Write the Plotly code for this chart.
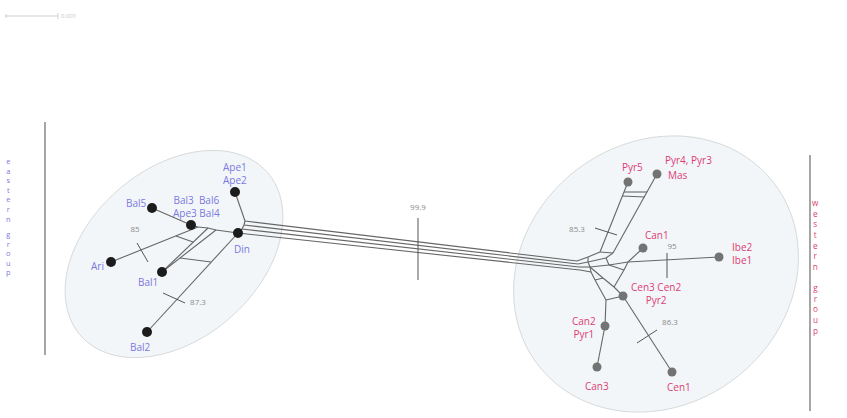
import numpy as np
import plotly.graph_objects as go

# ---------------- data ----------------
# network points (layout units); taxa first, then split junctions
point_names = ["Ape", "Bal5", "Bal3", "Din", "Ari", "Bal1", "Bal2",
               "Pyr5", "Pyr4", "Can1", "Ibe", "Cen3", "Can2", "Can3", "Cen1",
               "LA", "LB", "LC", "R1a", "R1b", "R2a", "R2b",
               "BL1", "BL2", "BL3", "BR1", "BR2", "BR3", "BR4",
               "Ha", "Hb", "Hc", "Hd", "U1", "U2", "He", "Hf", "Hg", "Hh",
               "D1", "D2", "D3", "D4", "P5r", "P4r", "P5s", "P4s"]
point_x = [235, 152, 191, 238, 111, 162, 147,
           628, 657, 643, 719, 623, 605, 597, 672,
           198, 208, 216, 176, 193, 180, 211,
           245, 244, 242, 577, 578, 579, 580,
           588, 588, 590, 591, 600, 613, 606, 609, 628, 624,
           603, 614, 595, 606, 624, 647, 622, 645]
point_y = [192, 208, 225, 233, 262, 272, 332,
           182, 174, 248, 257, 296, 326, 367, 372,
           227, 228, 230, 236, 242, 258, 262,
           221, 225, 229, 261, 264, 267, 270,
           257, 262, 267, 272, 252, 253, 258, 265, 262, 270,
           278, 287, 280, 300, 192, 192, 196, 197]

edges = [("Ape", "BL1"), ("BL1", "BL2"), ("BL2", "BL3"), ("BL3", "Din"),
         ("Bal5", "Bal3"), ("Bal3", "LA"), ("LA", "LB"), ("LB", "LC"), ("LC", "Din"),
         ("Ari", "LA"), ("Bal1", "LB"), ("Bal1", "LC"), ("R1a", "R1b"), ("R2a", "R2b"),
         ("Bal2", "Din"),
         ("BL1", "BR1"), ("BL2", "BR2"), ("BL3", "BR3"), ("Din", "BR4"),
         ("BR1", "Ha"), ("BR2", "Hb"), ("BR3", "Hc"), ("BR4", "Hd"),
         ("Ha", "Hb"), ("Hb", "Hc"), ("Hc", "Hd"), ("Ha", "U1"), ("Hb", "He"),
         ("He", "U2"), ("U1", "U2"), ("He", "Hf"), ("Hc", "Hf"), ("Hf", "Hg"),
         ("Hg", "Ibe"), ("Hg", "Can1"), ("Hf", "Hh"), ("Hh", "Hg"), ("Hh", "D2"),
         ("Hd", "D3"), ("Hc", "D1"), ("D3", "D1"), ("D1", "D2"), ("D2", "Cen3"),
         ("D3", "D4"), ("D4", "Can2"), ("D4", "Cen3"), ("Can2", "Can3"), ("Cen3", "Cen1"),
         ("U1", "Pyr5"), ("U2", "Pyr4"), ("P5r", "P4r"), ("P5s", "P4s")]

eastern_taxa = ["Ape", "Bal5", "Bal3", "Din", "Ari", "Bal1", "Bal2"]
western_taxa = ["Pyr5", "Pyr4", "Can1", "Ibe", "Cen3", "Can2", "Can3", "Cen1"]

# taxon labels: (node, text, dx, dy)
eastern_labels = [("Ape", "Ape1<br>Ape2", 0, -19), ("Bal5", "Bal5", -16, -5),
                  ("Bal3", "Bal3  Bal6<br>Ape3 Bal4", 5, -19), ("Din", "Din", 4, 16),
                  ("Ari", "Ari", -14, 4), ("Bal1", "Bal1", -14, 10), ("Bal2", "Bal2", -7, 15)]
western_labels = [("Pyr5", "Pyr5", 4, -15), ("Pyr4", "Pyr4, Pyr3", 31, -14), ("Pyr4", "Mas", 21, 1),
                  ("Can1", "Can1", 14, -13), ("Ibe", "Ibe2<br>Ibe1", 23, -4),
                  ("Cen3", "Cen3 Cen2<br>Pyr2", 33, -3),
                  ("Can2", "Can2<br>Pyr1", -21, 1), ("Can3", "Can3", 0, 19), ("Cen1", "Cen1", 7, 15)]

# split support values: label position and support tick ends
support_text = ["85", "87.3", "99.9", "85.3", "95", "86.3"]
support_lx = [135, 198, 418, 577, 672, 670]
support_ly = [230, 303, 208, 230, 247, 323]
tick_x0 = [137, 163, 418, 595, 667, 637]
tick_y0 = [243, 293, 218, 228, 253, 343]
tick_x1 = [148, 185, 418, 617, 667, 657]
tick_y1 = [262, 303, 280, 235, 278, 330]

scale_label = "0.001"

# ---------------- figure ----------------
W, H = 847, 418
EAST = "#7b78e0"
WEST = "#dc3d74"
pos = {n: (x, y) for n, x, y in zip(point_names, point_x, point_y)}

fig = go.Figure()


def ellipse_path(cx, cy, a, b, theta_deg, n=90):
    t = np.linspace(0, 2 * np.pi, n)
    th = np.radians(theta_deg)
    xs = cx + a * np.cos(t) * np.cos(th) + b * np.sin(t) * np.sin(th)
    ys = cy - a * np.cos(t) * np.sin(th) + b * np.sin(t) * np.cos(th)
    return "M " + " L ".join(f"{x:.1f},{y:.1f}" for x, y in zip(xs, ys)) + " Z"


for (cx, cy, a, b, th) in [(174, 254, 124, 85, 41), (656, 274, 149, 131, 38)]:
    fig.add_shape(type="path", path=ellipse_path(cx, cy, a, b, th), xref="x", yref="y",
                  fillcolor="rgba(226,234,238,0.42)", line=dict(color="#d6dadb", width=1),
                  layer="below")

# group bars
fig.add_shape(type="line", x0=45, x1=45, y0=122, y1=355, xref="x", yref="y",
              line=dict(color="#6a6a6a", width=1.2))
fig.add_shape(type="line", x0=810, x1=810, y0=155, y1=411, xref="x", yref="y",
              line=dict(color="#6a6a6a", width=1.2))

# edges
ex, ey = [], []
for a, b in edges:
    ex += [pos[a][0], pos[b][0], None]
    ey += [pos[a][1], pos[b][1], None]
fig.add_trace(go.Scatter(x=ex, y=ey, mode="lines", line=dict(color="#666666", width=1.1),
                         hoverinfo="skip", showlegend=False))

# support ticks
sx, sy = [], []
for x0, y0, x1, y1 in zip(tick_x0, tick_y0, tick_x1, tick_y1):
    sx += [x0, x1, None]
    sy += [y0, y1, None]
fig.add_trace(go.Scatter(x=sx, y=sy, mode="lines", line=dict(color="#555555", width=1),
                         hoverinfo="skip", showlegend=False))
fig.add_trace(go.Scatter(x=support_lx, y=support_ly, mode="text", text=support_text,
                         textfont=dict(family="Open Sans", size=8, color="#8a8a8a"),
                         hoverinfo="skip", showlegend=False))

# nodes
fig.add_trace(go.Scatter(x=[pos[n][0] for n in eastern_taxa], y=[pos[n][1] for n in eastern_taxa],
                         mode="markers", marker=dict(size=10, color="#1c1c1c"),
                         hoverinfo="skip", showlegend=False))
fig.add_trace(go.Scatter(x=[pos[n][0] for n in western_taxa], y=[pos[n][1] for n in western_taxa],
                         mode="markers", marker=dict(size=9, color="#737373"),
                         hoverinfo="skip", showlegend=False))

# taxon labels
for labels, col in [(eastern_labels, EAST), (western_labels, WEST)]:
    for n, txt, dx, dy in labels:
        fig.add_annotation(x=pos[n][0] + dx, y=pos[n][1] + dy, text=txt, showarrow=False,
                           xref="x", yref="y", font=dict(family="Open Sans", size=10, color=col),
                           align="center")

# group names (vertical)
for word, x, y, col, fs in [("eastern", 8, 159, EAST, 7.4), ("group", 8, 232, EAST, 7.4),
                            ("western", 815, 200, WEST, 8.2), ("group", 815, 285, WEST, 8.2)]:
    fig.add_annotation(x=x, y=y, text="<br>".join(word), showarrow=False, xref="x", yref="y",
                       yanchor="top", xanchor="center", yshift=5,
                       font=dict(family="Open Sans", size=fs, color=col), align="center")

# scale bar
fig.add_shape(type="line", x0=6, x1=58, y0=16, y1=16, line=dict(color="#cfcfcf", width=1))
fig.add_shape(type="line", x0=6, x1=6, y0=14, y1=18, line=dict(color="#cfcfcf", width=1))
fig.add_shape(type="line", x0=58, x1=58, y0=13, y1=19, line=dict(color="#cfcfcf", width=1))
fig.add_annotation(x=59, y=16, text=scale_label, showarrow=False, xanchor="left",
                   font=dict(family="Open Sans", size=6, color="#c4c4c4"))

fig.update_xaxes(range=[0, W], visible=False, fixedrange=True)
fig.update_yaxes(range=[H, 0], visible=False, fixedrange=True)
fig.update_layout(width=W, height=H, margin=dict(l=0, r=0, t=0, b=0),
                  plot_bgcolor="white", paper_bgcolor="white", hovermode=False)

fig.write_html("out.html", config={"displayModeBar": False},
               post_script="document.body.style.margin='0';document.body.style.overflow='hidden';")
